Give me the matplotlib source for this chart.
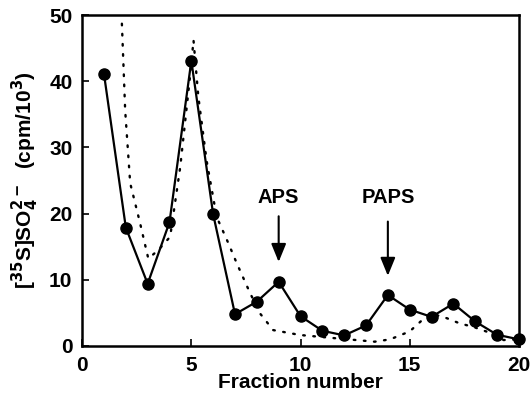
import numpy as np
import matplotlib
matplotlib.use('Agg')
import matplotlib.pyplot as plt

# fraction data (solid line with markers)
fraction = list(range(1, 21))
counts = [41.1, 17.9, 9.4, 18.7, 43.1, 19.9, 4.8, 6.7, 9.7, 4.5,
          2.3, 1.6, 3.1, 7.7, 5.5, 4.4, 6.4, 3.7, 1.7, 1.0]

# dotted trace
dot_x = [1.82, 1.97, 2.2, 2.65, 3.03, 3.49, 4.03, 4.49, 4.94, 5.1, 5.32, 5.7,
         6.16, 6.7, 7.08, 7.69, 8.15, 8.75, 9.98, 11.5, 13.4, 14.1, 15.0,
         15.5, 16.0, 16.7, 17.3, 17.9, 18.5, 19.3, 20.0]
dot_y = [48.7, 35.6, 24.6, 18.6, 13.2, 14.5, 16.5, 27.0, 40.7, 46.2, 37.7, 28.0,
         19.5, 15.5, 12.5, 8.0, 4.9, 2.4, 1.66, 1.2, 0.65, 1.0, 2.2,
         3.7, 4.9, 4.2, 3.4, 2.9, 2.2, 0.9, 1.0]

peaks = ['APS', 'PAPS']
peak_x = [9, 14]
arrow_top = [19.6, 18.8]
arrow_tip = [12.7, 10.6]
label_y = [21.0, 21.0]

plt.rcParams['font.family'] = ['Liberation Sans', 'DejaVu Sans']
plt.rcParams['font.weight'] = 'bold'

fig = plt.figure(figsize=(5.3, 3.97), dpi=100)
ax = fig.add_axes([0.155, 0.1285, 0.824, 0.8335])

ax.plot(dot_x, dot_y, color='black', lw=1.7, linestyle=(0, (0.7, 3.6)),
        dash_capstyle='round')
ax.plot(fraction, counts, color='black', lw=1.6, marker='o', markersize=8,
        clip_on=False, zorder=3)

for name, px, yt, yb, ly in zip(peaks, peak_x, arrow_top, arrow_tip, label_y):
    ax.annotate('', xy=(px, yb), xytext=(px, yt),
                arrowprops=dict(arrowstyle='-|>,head_width=0.45,head_length=1.1',
                                color='black', lw=1.5, shrinkA=0, shrinkB=0))
    ax.text(px, ly, name, ha='center', va='bottom', fontsize=14.5, fontweight='bold')

ax.set_xlim(0, 20)
ax.set_ylim(0, 50)
ax.set_xticks([0, 5, 10, 15, 20])
ax.set_yticks([0, 10, 20, 30, 40, 50])
ax.tick_params(direction='in', length=5, width=1.2, labelsize=15, pad=7)
for lab in ax.get_xticklabels() + ax.get_yticklabels():
    lab.set_fontweight('bold')
for sp in ax.spines.values():
    sp.set_linewidth(1.8)

ax.set_xlabel('Fraction number', fontsize=15, fontweight='bold', labelpad=-1)
ax.set_ylabel(r'[$^{\mathbf{35}}$S]SO$_{\mathbf{4}}^{\mathbf{2-}}$  (cpm/10$^{\mathbf{3}}$)',
              fontsize=15, fontweight='bold', labelpad=6)

fig.savefig('out.png', dpi=100)
